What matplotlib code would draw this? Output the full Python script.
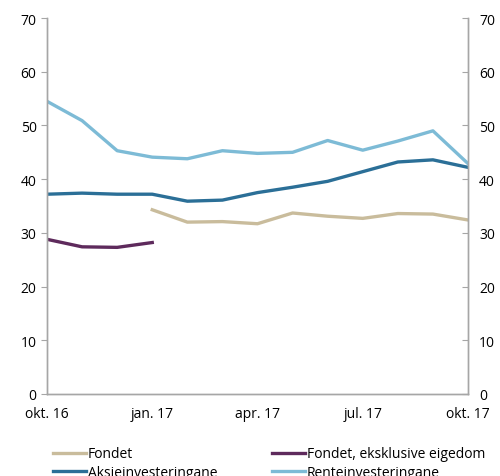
import numpy as np
import matplotlib
matplotlib.use("Agg")
import matplotlib.pyplot as plt

plt.rcParams['font.family'] = ['Open Sans', 'DejaVu Sans']

# months okt. 16 .. okt. 17
months = ['okt. 16', 'nov. 16', 'des. 16', 'jan. 17', 'feb. 17', 'mar. 17', 'apr. 17',
          'mai. 17', 'jun. 17', 'jul. 17', 'aug. 17', 'sep. 17', 'okt. 17']
tick_labels = ['okt. 16', 'jan. 17', 'apr. 17', 'jul. 17', 'okt. 17']

fondet = [np.nan, np.nan, np.nan, 34.3, 32.0, 32.1, 31.7, 33.7, 33.1, 32.7, 33.6, 33.5, 32.4]
fondet_eks = [28.8, 27.4, 27.3, 28.2] + [np.nan] * 9
aksje = [37.2, 37.4, 37.2, 37.2, 35.9, 36.1, 37.5, 38.5, 39.6, 41.4, 43.2, 43.6, 42.2]
rente = [54.5, 50.9, 45.3, 44.1, 43.8, 45.3, 44.8, 45.0, 47.2, 45.4, 47.1, 49.0, 42.9]

x = np.arange(len(months))

fig = plt.figure(figsize=(5, 4.77), dpi=100)
ax = fig.add_axes([0.094, 0.172, 0.842, 0.788])

lw = 2.4
l1, = ax.plot(x, fondet, color='#C9BC9C', lw=lw, label='Fondet')
l3, = ax.plot(x, aksje, color='#2B6F97', lw=lw, label='Aksjeinvesteringane')
l2, = ax.plot(x, fondet_eks, color='#5E2A5C', lw=lw, label='Fondet, eksklusive eigedom')
l4, = ax.plot(x, rente, color='#7DBBD6', lw=lw, label='Renteinvesteringane')

ax.set_xlim(0, 12)
ax.set_ylim(0, 70)
ax.set_yticks(range(0, 71, 10))
ax.set_xticks([0, 3, 6, 9, 12])
ax.set_xticklabels(tick_labels)

ax2 = ax.twinx()
ax2.set_ylim(0, 70)
ax2.set_yticks(range(0, 71, 10))

for a in (ax, ax2):
    a.spines['top'].set_visible(False)
    for s in ('left', 'right', 'bottom'):
        a.spines[s].set_color('#A6A6A6')
        a.spines[s].set_linewidth(1.0)
    a.tick_params(axis='y', colors='#A6A6A6', labelcolor='black', labelsize=10, length=4)
ax.tick_params(axis='x', length=0, labelsize=10, pad=9)
ax2.tick_params(axis='y', direction='in', pad=8)

fig.legend(handles=[l1, l3, l2, l4], loc='upper left', bbox_to_anchor=(0.105, 0.062),
           ncol=2, frameon=False, fontsize=10, handlelength=2.4, handletextpad=0.15,
           columnspacing=3.9, labelspacing=0.25, borderpad=0, borderaxespad=0)

fig.savefig('out.png', dpi=100)
